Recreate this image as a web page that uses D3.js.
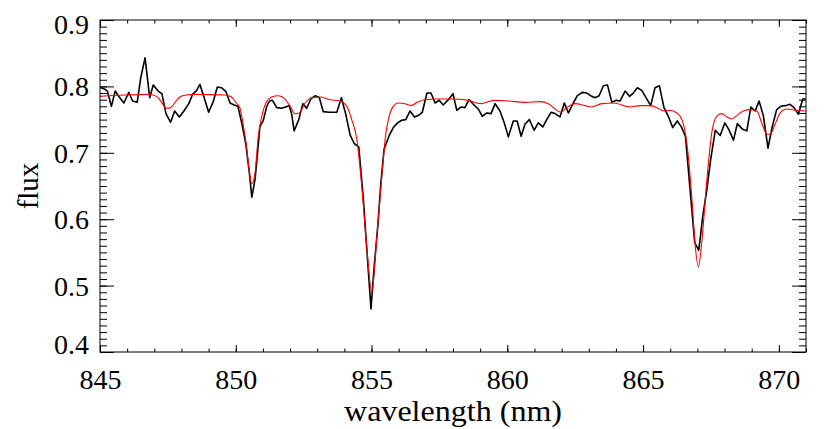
<!DOCTYPE html>
<html><head><meta charset="utf-8">
<script src="https://cdn.jsdelivr.net/npm/d3@7"></script>
<style>body{margin:0;background:#fff}svg{display:block}text{font-family:"Liberation Serif","DejaVu Serif",serif;fill:#000}</style>
</head><body><svg id="c" width="830" height="429"></svg>
<script>
const obsWave = [845.03,845.17,845.27,845.42,845.56,845.71,845.88,846.06,846.20,846.37,846.50,846.66,846.83,846.96,847.14,847.28,847.43,847.60,847.75,847.92,848.09,848.27,848.41,848.56,848.68,848.86,849.00,849.17,849.32,849.47,849.64,849.79,849.94,850.08,850.23,850.37,850.50,850.59,850.71,850.79,850.89,851.01,851.14,851.24,851.35,851.51,851.69,851.97,852.06,852.15,852.32,852.47,852.61,852.76,852.93,853.08,853.22,853.45,853.72,853.89,854.04,854.21,854.36,854.53,854.70,854.85,854.98,855.10,855.23,855.34,855.46,855.64,855.80,855.96,856.11,856.26,856.42,856.58,856.72,856.87,857.04,857.19,857.34,857.49,857.64,857.83,858.00,858.14,858.30,858.44,858.59,858.75,858.93,859.08,859.24,859.40,859.55,859.73,859.89,860.04,860.22,860.36,860.51,860.65,860.81,860.99,861.14,861.31,861.45,861.61,861.76,861.94,862.10,862.25,862.43,862.58,862.76,862.93,863.07,863.23,863.38,863.54,863.69,863.85,864.01,864.15,864.34,864.50,864.64,864.79,864.95,865.11,865.28,865.44,865.60,865.77,865.93,866.09,866.26,866.41,866.56,866.73,866.90,867.05,867.20,867.35,867.49,867.66,867.84,868.01,868.16,868.33,868.47,868.65,868.82,868.97,869.13,869.27,869.43,869.60,869.76,869.92,870.07,870.24,870.41,870.56,870.72,870.88,870.98];
const obsFlux = [0.798,0.796,0.793,0.770,0.793,0.784,0.775,0.791,0.778,0.776,0.813,0.843,0.783,0.802,0.793,0.789,0.759,0.746,0.763,0.754,0.763,0.774,0.788,0.794,0.803,0.780,0.761,0.777,0.799,0.798,0.792,0.775,0.772,0.770,0.743,0.713,0.670,0.633,0.660,0.695,0.740,0.748,0.770,0.778,0.779,0.768,0.767,0.771,0.758,0.733,0.750,0.774,0.767,0.781,0.786,0.783,0.762,0.761,0.761,0.783,0.760,0.727,0.714,0.709,0.630,0.540,0.465,0.530,0.590,0.653,0.705,0.725,0.738,0.745,0.749,0.750,0.763,0.754,0.756,0.761,0.790,0.790,0.775,0.779,0.772,0.780,0.789,0.764,0.769,0.768,0.780,0.773,0.766,0.755,0.760,0.759,0.774,0.763,0.745,0.724,0.748,0.748,0.725,0.743,0.750,0.734,0.745,0.739,0.750,0.761,0.759,0.754,0.775,0.760,0.775,0.786,0.791,0.790,0.786,0.783,0.786,0.801,0.802,0.776,0.779,0.778,0.793,0.785,0.790,0.798,0.794,0.783,0.771,0.798,0.801,0.768,0.755,0.738,0.748,0.739,0.725,0.645,0.565,0.553,0.605,0.645,0.690,0.734,0.726,0.745,0.735,0.719,0.744,0.736,0.733,0.769,0.763,0.778,0.756,0.707,0.740,0.765,0.770,0.771,0.773,0.768,0.758,0.781,0.781];
const modelWave = [845.00,845.90,846.77,846.95,847.14,847.32,847.44,847.60,847.75,847.94,848.18,848.49,849.59,849.84,850.02,850.15,850.27,850.40,850.49,850.59,850.71,850.83,850.96,851.11,851.32,851.57,851.81,852.00,852.18,852.34,852.55,852.80,853.10,853.47,853.84,854.09,854.27,854.46,854.64,854.82,855.01,855.19,855.38,855.53,855.62,855.77,855.99,856.23,856.45,856.72,856.97,857.46,857.95,858.57,858.87,859.06,859.30,859.55,860.04,860.65,861.21,861.51,861.76,861.97,862.19,862.50,862.86,863.11,863.48,863.91,864.52,864.89,865.26,865.50,865.77,865.99,866.24,866.43,866.61,866.80,866.92,867.04,867.16,867.35,867.53,867.71,867.90,868.08,868.27,868.45,868.69,868.94,869.19,869.37,869.56,869.68,869.86,870.05,870.29,870.66,870.98];
const modelFlux = [0.785,0.787,0.788,0.787,0.783,0.773,0.767,0.768,0.775,0.784,0.787,0.788,0.787,0.784,0.775,0.768,0.743,0.708,0.675,0.653,0.670,0.725,0.755,0.775,0.784,0.786,0.781,0.770,0.759,0.760,0.775,0.783,0.784,0.780,0.778,0.770,0.750,0.720,0.650,0.560,0.490,0.570,0.665,0.730,0.750,0.768,0.775,0.774,0.771,0.777,0.780,0.781,0.781,0.779,0.775,0.774,0.777,0.779,0.778,0.776,0.777,0.774,0.766,0.761,0.768,0.774,0.771,0.769,0.774,0.775,0.769,0.771,0.771,0.768,0.763,0.764,0.760,0.750,0.715,0.630,0.560,0.528,0.565,0.660,0.730,0.755,0.759,0.754,0.751,0.756,0.763,0.765,0.763,0.745,0.728,0.728,0.743,0.760,0.766,0.764,0.763];
const xTicks = [845,850,855,860,865,870];
const yTicks = [0.4,0.5,0.6,0.7,0.8,0.9];
const xLabel = "wavelength (nm)";
const yLabel = "flux";

const svg = d3.select("#c");
const L=100,R=806,T=20,B=352;
const x = d3.scaleLinear().domain([845,871]).range([L,R]);
const y = d3.scaleLinear().domain([0.4,0.9]).range([B,T]);

svg.append("clipPath").attr("id","clip").append("rect").attr("x",L).attr("y",T).attr("width",R-L).attr("height",B-T);

const obs = obsWave.map((w,i)=>[w,obsFlux[i]]);
const mod = modelWave.map((w,i)=>[w,modelFlux[i]]);
const plot = svg.append("g").attr("clip-path","url(#clip)");
plot.append("path").datum(obs).attr("fill","none").attr("stroke","#000").attr("stroke-width",1.6).attr("stroke-linejoin","round")
  .attr("d",d3.line().x(d=>x(d[0])).y(d=>y(d[1])));
plot.append("path").datum(mod).attr("fill","none").attr("stroke","#ff0000").attr("stroke-width",1.1)
  .attr("d",d3.line().curve(d3.curveMonotoneX).x(d=>x(d[0])).y(d=>y(d[1])));

const fs = 28;
const xMinor = d3.range(845,872,1);
const yMinor = d3.range(0,51).map(i=>+(0.4+i*0.01).toFixed(2));
const ax = svg.append("g");
function tickAxis(axisGen, tx, ty){
  const a = ax.append("g").attr("transform",`translate(${tx},${ty})`).call(axisGen);
  a.selectAll(".domain").remove();
  a.selectAll("line").attr("stroke","#000").attr("stroke-width",1);
  return a;
}
const bAx = tickAxis(d3.axisBottom(x).tickValues(xTicks).tickSize(-7).tickPadding(0).tickFormat(d3.format("d")),0,B);
bAx.selectAll("text").attr("font-size",fs).attr("dy",null).attr("y",37).style("font-family","Liberation Serif");
tickAxis(d3.axisBottom(x).tickValues(xMinor).tickSize(-3.5).tickFormat(""),0,B);
tickAxis(d3.axisTop(x).tickValues(xTicks).tickSize(-7).tickFormat(""),0,T);
tickAxis(d3.axisTop(x).tickValues(xMinor).tickSize(-3.5).tickFormat(""),0,T);
const lAx = tickAxis(d3.axisLeft(y).tickValues(yTicks).tickSize(-14).tickPadding(0).tickFormat(d3.format(".1f")),L,0);
lAx.selectAll("text").attr("font-size",fs).attr("x",-11).attr("dy","0.34em").style("font-family","Liberation Serif")
  .attr("y",d=> d===0.9 ? 4 : (d===0.4 ? -8 : 0));
tickAxis(d3.axisLeft(y).tickValues(yMinor).tickSize(-7).tickFormat(""),L,0);
tickAxis(d3.axisRight(y).tickValues(yTicks).tickSize(-14).tickFormat(""),R,0);
tickAxis(d3.axisRight(y).tickValues(yMinor).tickSize(-7).tickFormat(""),R,0);
ax.append("rect").attr("x",L).attr("y",T).attr("width",R-L).attr("height",B-T).attr("fill","none").attr("stroke","#000").attr("stroke-width",1);

svg.append("text").attr("x",(L+R)/2).attr("y",421).attr("text-anchor","middle").attr("font-size",29).attr("textLength",218).attr("lengthAdjust","spacingAndGlyphs").text(xLabel);
svg.append("text").attr("transform",`translate(38,${(T+B)/2}) rotate(-90)`).attr("text-anchor","middle").attr("font-size",29).text(yLabel);
</script></body></html>
